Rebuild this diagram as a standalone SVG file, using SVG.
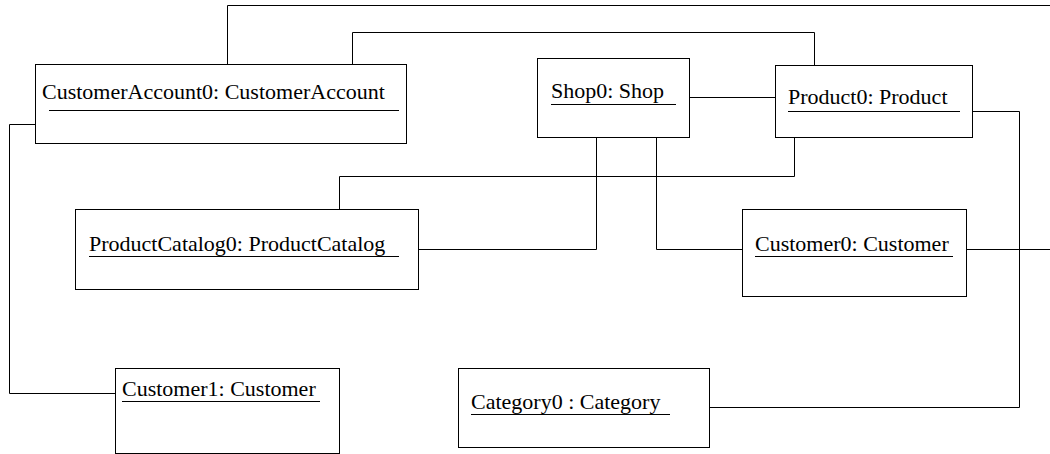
<svg xmlns="http://www.w3.org/2000/svg" width="1050" height="454" viewBox="0 0 1050 454">
<style>
.box{fill:#fff;stroke:#000;stroke-width:1}
.lbl{font-family:"Liberation Serif","Times New Roman",serif;font-size:22px;fill:#000}
.ul{stroke:#000;stroke-width:1}
.con{fill:none;stroke:#000;stroke-width:1}
</style>
<rect width="1050" height="454" fill="#fff"/>
<g id="connectors">
<path class="con" d="M227.5,64 V5.5 H1050"/>
<path class="con" d="M352.5,64 V32.5 H814.5 V65"/>
<path class="con" d="M689,97.5 H775"/>
<path class="con" d="M794.5,137 V176.5 H339.5 V209"/>
<path class="con" d="M596.5,137 V249.5 H419"/>
<path class="con" d="M656.5,137 V249.5 H742"/>
<path class="con" d="M967,249.5 H1050"/>
<path class="con" d="M972,111.5 H1019.5 V407.5 H709"/>
<path class="con" d="M35,124.5 H9.5 V393.5 H115"/>
</g>
<g id="CustomerAccount0">
<rect class="box" x="35.5" y="64.5" width="371" height="79"/>
<text class="lbl" x="42" y="99">CustomerAccount0: CustomerAccount</text>
<line class="ul" x1="49" y1="110.5" x2="399" y2="110.5"/>
</g>
<g id="Shop0">
<rect class="box" x="537.5" y="58.5" width="152" height="79"/>
<text class="lbl" x="551" y="98">Shop0: Shop</text>
<line class="ul" x1="551" y1="104.5" x2="676" y2="104.5"/>
</g>
<g id="Product0">
<rect class="box" x="775.5" y="65.5" width="197" height="72"/>
<text class="lbl" x="788" y="104">Product0: Product</text>
<line class="ul" x1="788" y1="111.5" x2="960" y2="111.5"/>
</g>
<g id="ProductCatalog0">
<rect class="box" x="75.5" y="209.5" width="343" height="80"/>
<text class="lbl" x="89" y="251">ProductCatalog0: ProductCatalog</text>
<line class="ul" x1="89" y1="256.5" x2="399" y2="256.5"/>
</g>
<g id="Customer0">
<rect class="box" x="742.5" y="209.5" width="224" height="87"/>
<text class="lbl" x="755" y="251">Customer0: Customer</text>
<line class="ul" x1="755" y1="256.5" x2="953" y2="256.5"/>
</g>
<g id="Customer1">
<rect class="box" x="115.5" y="368.5" width="224" height="85"/>
<text class="lbl" x="122" y="396">Customer1: Customer</text>
<line class="ul" x1="122" y1="401.5" x2="320" y2="401.5"/>
</g>
<g id="Category0">
<rect class="box" x="458.5" y="368.5" width="251" height="79"/>
<text class="lbl" x="471" y="409">Category0 : Category</text>
<line class="ul" x1="471" y1="414.5" x2="670" y2="414.5"/>
</g>
</svg>
